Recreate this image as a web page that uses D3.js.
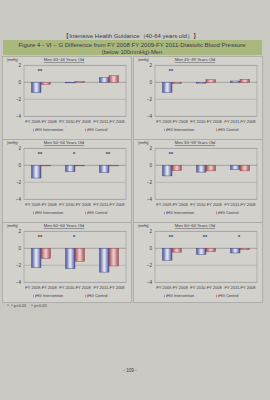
<!DOCTYPE html>
<html><head><meta charset="utf-8">
<script src="https://cdn.jsdelivr.net/npm/d3@7"></script>
<style>html,body{margin:0;padding:0;background:#c9c7c2;}svg{display:block;}</style>
</head><body>
<script>
const pageTitle = "【Intensive Health Guidance（40-64 years old）】";
const figTitle1 = "Figure 4－Ⅵ－G  Difference  from FY  2008  FY  2009-FY  2011-Diastolic  Blood  Pressure";
const figTitle2 = "(below 100mmHg)-Men";
const categories = ["FY 2009-FY 2008", "FY 2010-FY 2008", "FY 2011-FY 2008"];
const panelTitles = ["Men 40~44 Years Old", "Men 45~49 Years Old", "Men 50~54 Years Old", "Men 55~59 Years Old", "Men 60~64 Years Old", "Men 60~64 Years Old"];
const intervention = [[-1.2, -0.05, 0.55], [-1.2, -0.1, 0.15], [-1.5, -0.75, -0.85], [-1.25, -0.8, -0.5], [-2.28, -2.4, -2.8], [-1.4, -0.7, -0.55]];
const control = [[-0.25, 0.1, 0.78], [-0.15, 0.3, 0.35], [-0.05, -0.05, -0.05], [-0.6, -0.65, -0.65], [-1.2, -1.52, -2.08], [-0.45, -0.4, -0.15]];
const significance = [["**", "", ""], ["**", "", ""], ["**", "*", "**"], ["**", "", ""], ["**", "*", ""], ["**", "**", "*"]];
const yTicks = [2, 0, -2, -4];
const seriesNames = ["HG Intervention", "HG Control"];
const footnote = "＊＊p<0.01　＊p<0.05";
const pageNumber = "- 109 -";

const W = 270, H = 400;
const svg = d3.select("body").append("svg").attr("width", W).attr("height", H);
const font = "Liberation Sans, Arial, sans-serif";
const ink = "#3a3a44";

const defs = svg.append("defs");
function grad(id, edge, mid) {
  const g = defs.append("linearGradient").attr("id", id).attr("x1", "0").attr("x2", "1").attr("y1", "0").attr("y2", "0");
  g.append("stop").attr("offset", "0").attr("stop-color", edge);
  g.append("stop").attr("offset", "0.45").attr("stop-color", mid);
  g.append("stop").attr("offset", "0.55").attr("stop-color", mid);
  g.append("stop").attr("offset", "1").attr("stop-color", edge);
}
grad("gInt", "#4b5495", "#dfe1f2");
grad("gCtl", "#a24f5a", "#ecc6c4");

svg.append("rect").attr("width", W).attr("height", H).attr("fill", "#cac8c3");

svg.append("text").attr("x", 131).attr("y", 38).attr("text-anchor", "middle")
  .attr("font-family", font).attr("font-size", 6).attr("fill", ink).text(pageTitle);

svg.append("rect").attr("x", 3).attr("y", 40).attr("width", 259).attr("height", 15).attr("fill", "#a9b87c");
svg.append("text").attr("x", 132).attr("y", 46.5).attr("text-anchor", "middle")
  .attr("font-family", font).attr("font-size", 6).attr("fill", ink).text(figTitle1);
svg.append("text").attr("x", 132).attr("y", 53.5).attr("text-anchor", "middle")
  .attr("font-family", font).attr("font-size", 5.8).attr("fill", ink).text(figTitle2);

const rowY = [56, 139, 222];
const colX = [2, 133];
const panelW = 129, panelH = [83, 83, 80];

panelTitles.forEach((title, i) => {
  const col = i % 2, row = Math.floor(i / 2);
  const px = colX[col], py = rowY[row];
  const g = svg.append("g");
  g.append("rect").attr("x", px + 0.5).attr("y", py + 0.5).attr("width", panelW).attr("height", panelH[row])
    .attr("fill", "#d3d1cc").attr("stroke", "#a8a7a3").attr("stroke-width", 0.8);

  const x = d3.scaleBand().domain(categories).range([px + 22, px + 124]);
  const y = d3.scaleLinear().domain([-4, 2]).range([py + 60.3, py + 9.3]);
  const inner = d3.scaleBand().domain(seriesNames).range([0, x.bandwidth()]).paddingInner(0).paddingOuter(0.8);

  g.append("text").attr("x", px + 5).attr("y", py + 4.5).attr("font-family", font).attr("font-size", 3)
    .attr("fill", ink).text("(mmHg)");
  g.append("text").attr("x", px + 62).attr("y", py + 5).attr("text-anchor", "middle")
    .attr("font-family", font).attr("font-size", 4.2).attr("fill", ink).attr("text-decoration", "underline").text(title);

  g.append("rect").attr("x", x.range()[0]).attr("y", y(2)).attr("width", x.range()[1] - x.range()[0])
    .attr("height", y(-4) - y(2)).attr("fill", "none").attr("stroke", "#9a9a9a").attr("stroke-width", 0.6);
  yTicks.forEach(t => {
    g.append("line").attr("x1", x.range()[0]).attr("x2", x.range()[1]).attr("y1", y(t)).attr("y2", y(t))
      .attr("stroke", t === 0 ? "#7d7d7d" : "#a3a3a3").attr("stroke-width", 0.6);
  });

  const ax = g.append("g").attr("transform", `translate(${x.range()[0]},0)`)
    .call(d3.axisLeft(y).tickValues(yTicks).tickSize(0).tickPadding(3).tickFormat(d3.format("d")));
  ax.select(".domain").remove();
  ax.selectAll("text").attr("font-family", font).attr("font-size", 4.6).attr("fill", ink);

  const xa = g.append("g").attr("transform", `translate(0,${y(-4)})`)
    .call(d3.axisBottom(x).tickSize(0).tickPadding(3.5));
  xa.select(".domain").remove();
  xa.selectAll("text").attr("font-family", font).attr("font-size", 4).attr("fill", ink);

  const series = [intervention[i], control[i]];
  series.forEach((vals, s) => {
    g.selectAll(null).data(vals).enter().append("rect")
      .attr("x", (d, k) => x(categories[k]) + inner(seriesNames[s]))
      .attr("width", inner.bandwidth())
      .attr("y", d => Math.min(y(d), y(0)))
      .attr("height", d => Math.max(0.6, Math.abs(y(d) - y(0))))
      .attr("fill", s === 0 ? "url(#gInt)" : "url(#gCtl)")
      .attr("stroke", s === 0 ? "#3c437e" : "#8f3f4a").attr("stroke-width", 0.45);
  });

  g.selectAll(null).data(significance[i]).enter().append("text")
    .attr("x", (d, k) => x(categories[k]) + x.bandwidth() / 2 - 1)
    .attr("y", y(2) + 7.5)
    .attr("text-anchor", "middle").attr("font-family", font).attr("font-size", 5.5).attr("font-weight", "bold").attr("fill", ink)
    .text(d => d);

  const ly = y(-4) + 15;
  const lx = [px + 31, px + 83];
  seriesNames.forEach((n, s) => {
    g.append("rect").attr("x", lx[s]).attr("y", ly - 2.6).attr("width", 2.6).attr("height", 2.6)
      .attr("fill", s === 0 ? "url(#gInt)" : "url(#gCtl)");
    g.append("text").attr("x", lx[s] + 3).attr("y", ly).attr("font-family", font).attr("font-size", 3.9)
      .attr("fill", ink).text(n);
  });
});

svg.append("text").attr("x", 6).attr("y", 306.5).attr("font-family", font).attr("font-size", 4)
  .attr("fill", ink).text(footnote);
svg.append("text").attr("x", 130).attr("y", 372).attr("text-anchor", "middle").attr("font-family", font)
  .attr("font-size", 4.6).attr("fill", ink).text(pageNumber);
</script>
</body></html>
